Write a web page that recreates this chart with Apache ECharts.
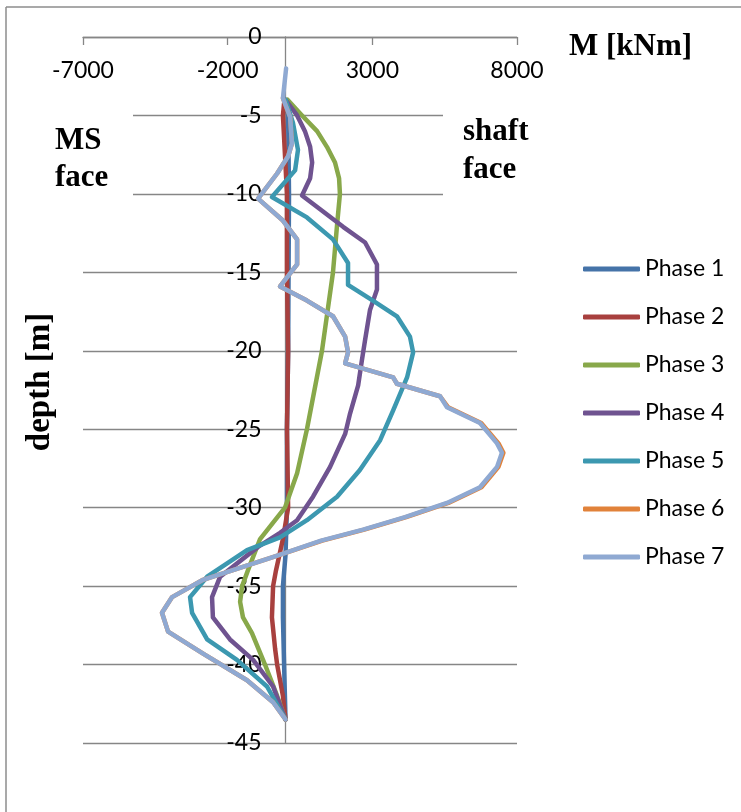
<!DOCTYPE html>
<html>
<head>
<meta charset="utf-8">
<script src="https://cdn.jsdelivr.net/npm/echarts@6/dist/echarts.min.js"></script>
<style>
html,body{margin:0;padding:0;background:#fff;}
#chart{width:741px;height:812px;}
</style>
</head>
<body>
<div id="chart"></div>
<script>
// ---- data (M in kNm, depth in m) ----
var seriesNames = ['Phase 1','Phase 2','Phase 3','Phase 4','Phase 5','Phase 6','Phase 7'];
var xTickLabels = [-7000, -2000, 3000, 8000];
var yTickLabels = [0, -5, -10, -15, -20, -25, -30, -35, -40, -45];

var phase1Depth = [-4, -5, -10, -20, -25, -30, -33, -35, -37, -40, -43.5];
var phase1M     = [0, 90, 120, 90, 50, 50, 0, -90, -90, -50, 0];

var phase2Depth = [-4.2, -5, -10, -15, -20, -25, -30, -32, -34, -35, -37, -39, -40, -42, -43.5];
var phase2M     = [-50, -90, 50, 50, 90, 50, 90, -90, -330, -430, -470, -360, -290, -90, 0];

var phase3Depth = [-4, -5, -6, -7, -8, -9, -10, -12, -15, -20, -25, -27.8, -30, -32, -34, -35, -36, -37, -38, -40, -42, -43.5];
var phase3M     = [70, 570, 1090, 1430, 1710, 1850, 1880, 1780, 1640, 1260, 740, 400, -20, -880, -1300, -1500, -1570, -1470, -1160, -710, -290, 0];

var phase4Depth = [-4, -5, -6, -7, -8, -9, -10.1, -12.1, -13.1, -14.5, -16.1, -17.4, -19.3, -20.6, -22.2, -24, -25.3, -27.4, -29.3, -30.8, -31.6, -32.5, -34.4, -35.7, -37, -38.4, -39.7, -41.4, -43.5];
var phase4M     = [0, 400, 670, 850, 920, 850, 570, 1990, 2750, 3160, 3160, 2920, 2750, 2640, 2510, 2230, 2060, 1540, 950, 400, -190, -950, -2260, -2540, -2510, -1920, -1120, -430, 0];

var phase5Depth = [-4, -5.5, -7.2, -8.5, -10.2, -11.5, -12.9, -14.4, -15.8, -16.8, -17.8, -19.1, -20.1, -21.7, -23.8, -25.7, -27.6, -29.3, -30.8, -31.9, -32.7, -34.4, -35.7, -36.7, -38.4, -39.7, -41.4, -43.5];
var phase5M     = [0, 260, 430, 330, -470, 740, 1640, 2160, 2160, 3020, 3850, 4300, 4410, 4200, 3720, 3270, 2570, 1780, 740, -190, -1330, -2710, -3300, -3230, -2710, -1680, -640, 0];

var phase6Depth = [-3.9, -5.1, -6.8, -7.6, -8.7, -10.3, -11.7, -12.9, -14.5, -15.9, -16.8, -17.8, -19.1, -20.1, -20.8, -21.7, -22.1, -22.9, -23.6, -24.6, -25.9, -26.5, -27.4, -28.7, -29.7, -30.6, -31.4, -32.1, -33.1, -34.6, -35.7, -36.7, -37.9, -39.3, -41, -42.4, -43.5];
var phase6M     = [-90, 160, 220, 90, -290, -950, -90, 400, 400, -190, 740, 1640, 2060, 2160, 2060, 3720, 3850, 5340, 5620, 6760, 7360, 7530, 7360, 6770, 5630, 4170, 2720, 1270, -360, -2850, -3920, -4270, -4060, -2850, -1330, -430, 0];

var phase7Depth = [-2, -3.9, -5.1, -6.8, -7.6, -8.7, -10.3, -11.7, -12.9, -14.5, -15.9, -16.8, -17.8, -19.1, -20.1, -20.8, -21.7, -22.1, -22.9, -23.6, -24.6, -25.9, -26.5, -27.4, -28.7, -29.7, -30.6, -31.4, -32.1, -33.1, -34.6, -35.7, -36.7, -37.9, -39.3, -41, -42.4, -43.5];
var phase7M     = [20, -90, 160, 220, 90, -290, -950, -90, 400, 400, -190, 740, 1640, 2060, 2160, 2060, 3720, 3850, 5340, 5580, 6720, 7310, 7480, 7310, 6720, 5580, 4130, 2680, 1230, -360, -2850, -3920, -4270, -4060, -2850, -1330, -430, 0];

var seriesColors = ['#4573a8', '#a8403e', '#88a84a', '#6f5390', '#3c98b0', '#e1823a', '#8fa9d2'];

function pairs(ms, ds){ return ms.map(function(m,i){ return [m, ds[i]]; }); }
var allData = [
  pairs(phase1M, phase1Depth),
  pairs(phase2M, phase2Depth),
  pairs(phase3M, phase3Depth),
  pairs(phase4M, phase4Depth),
  pairs(phase5M, phase5Depth),
  pairs(phase6M, phase6Depth),
  pairs(phase7M, phase7Depth)
];

var tickFont = 'Lato';
var gridGray = '#868686';
var gridLeft = 83, gridRight = 224, gridWidth = 741 - gridLeft - gridRight;
var xMin = xTickLabels[0], xMax = xTickLabels[xTickLabels.length-1];
// place the y axis (line + labels) where M = 0
var yAxisOffset = -gridWidth * (0 - xMin) / (xMax - xMin);

var chart = echarts.init(document.getElementById('chart'), null, {renderer:'canvas'});
var option = {
  animation: false,
  backgroundColor: '#ffffff',
  grid: {left: gridLeft, right: gridRight, top: 37, bottom: 69, containLabel: false},
  xAxis: {
    type: 'value', position: 'top',
    min: xMin, max: xMax, interval: 5000,
    axisLine: {show: true, onZero: false, lineStyle: {color: gridGray, width: 1.3}},
    axisTick: {show: true, inside: true, length: 8, lineStyle: {color: gridGray, width: 1.3}},
    axisLabel: {inside: true, margin: 22, color: '#000', fontFamily: tickFont, fontSize: 23,
      formatter: function(v){ return String(v); }},
    splitLine: {show: false}
  },
  yAxis: {
    type: 'value', position: 'left', offset: yAxisOffset,
    min: yTickLabels[yTickLabels.length-1], max: yTickLabels[0], interval: 5,
    axisLine: {show: true, onZero: false, lineStyle: {color: gridGray, width: 1.3}},
    axisTick: {show: false},
    axisLabel: {margin: 24, color: '#000', fontFamily: tickFont, fontSize: 23,
      formatter: function(v){ return String(v); }},
    splitLine: {show: true, lineStyle: {color: gridGray, width: 1.3}}
  },
  legend: {
    orient: 'vertical', left: 583, top: 257, padding: 0,
    itemWidth: 57, itemHeight: 5, itemGap: 24, icon: 'roundRect',
    textStyle: {fontFamily: tickFont, fontSize: 23, color: '#000', lineHeight: 24},
    data: seriesNames
  },
  series: seriesNames.map(function(n, i){
    return {
      name: n, type: 'line', data: allData[i],
      showSymbol: false, symbol: 'none', smooth: false,
      lineStyle: {width: 4.5, color: seriesColors[i], cap: 'round', join: 'round'},
      itemStyle: {color: seriesColors[i]},
      z: 2 + i
    };
  }),
  graphic: [
    {type: 'line', shape: {x1: 6, y1: 7, x2: 741, y2: 7}, style: {stroke: '#8c8c8c', lineWidth: 1.5}, z: 10},
    {type: 'line', shape: {x1: 6, y1: 7, x2: 6, y2: 812}, style: {stroke: '#8c8c8c', lineWidth: 1.5}, z: 10},
    {type: 'rect', shape: {x: 20, y: 100, width: 113, height: 105}, style: {fill: '#fff'}, z: 1},
    {type: 'rect', shape: {x: 443, y: 100, width: 80, height: 105}, style: {fill: '#fff'}, z: 1},
    {type: 'text', x: 569, y: 47, z: 10, style: {text: 'M [kNm]', font: 'bold 31px "Liberation Serif"', fill: '#000', verticalAlign: 'middle'}},
    {type: 'text', x: 55, y: 122, z: 10, style: {text: 'MS\nface', font: 'bold 31px "Liberation Serif"', lineHeight: 37, fill: '#000', verticalAlign: 'top'}},
    {type: 'text', x: 463, y: 113, z: 10, style: {text: 'shaft\nface', font: 'bold 31px "Liberation Serif"', lineHeight: 38, fill: '#000', verticalAlign: 'top'}},
    {type: 'text', x: 40, y: 382, rotation: Math.PI/2, z: 10, style: {text: 'depth [m]', font: 'bold 33px "Liberation Serif"', fill: '#000', align: 'center', verticalAlign: 'middle'}}
  ]
};
chart.setOption(option);
</script>
</body>
</html>
